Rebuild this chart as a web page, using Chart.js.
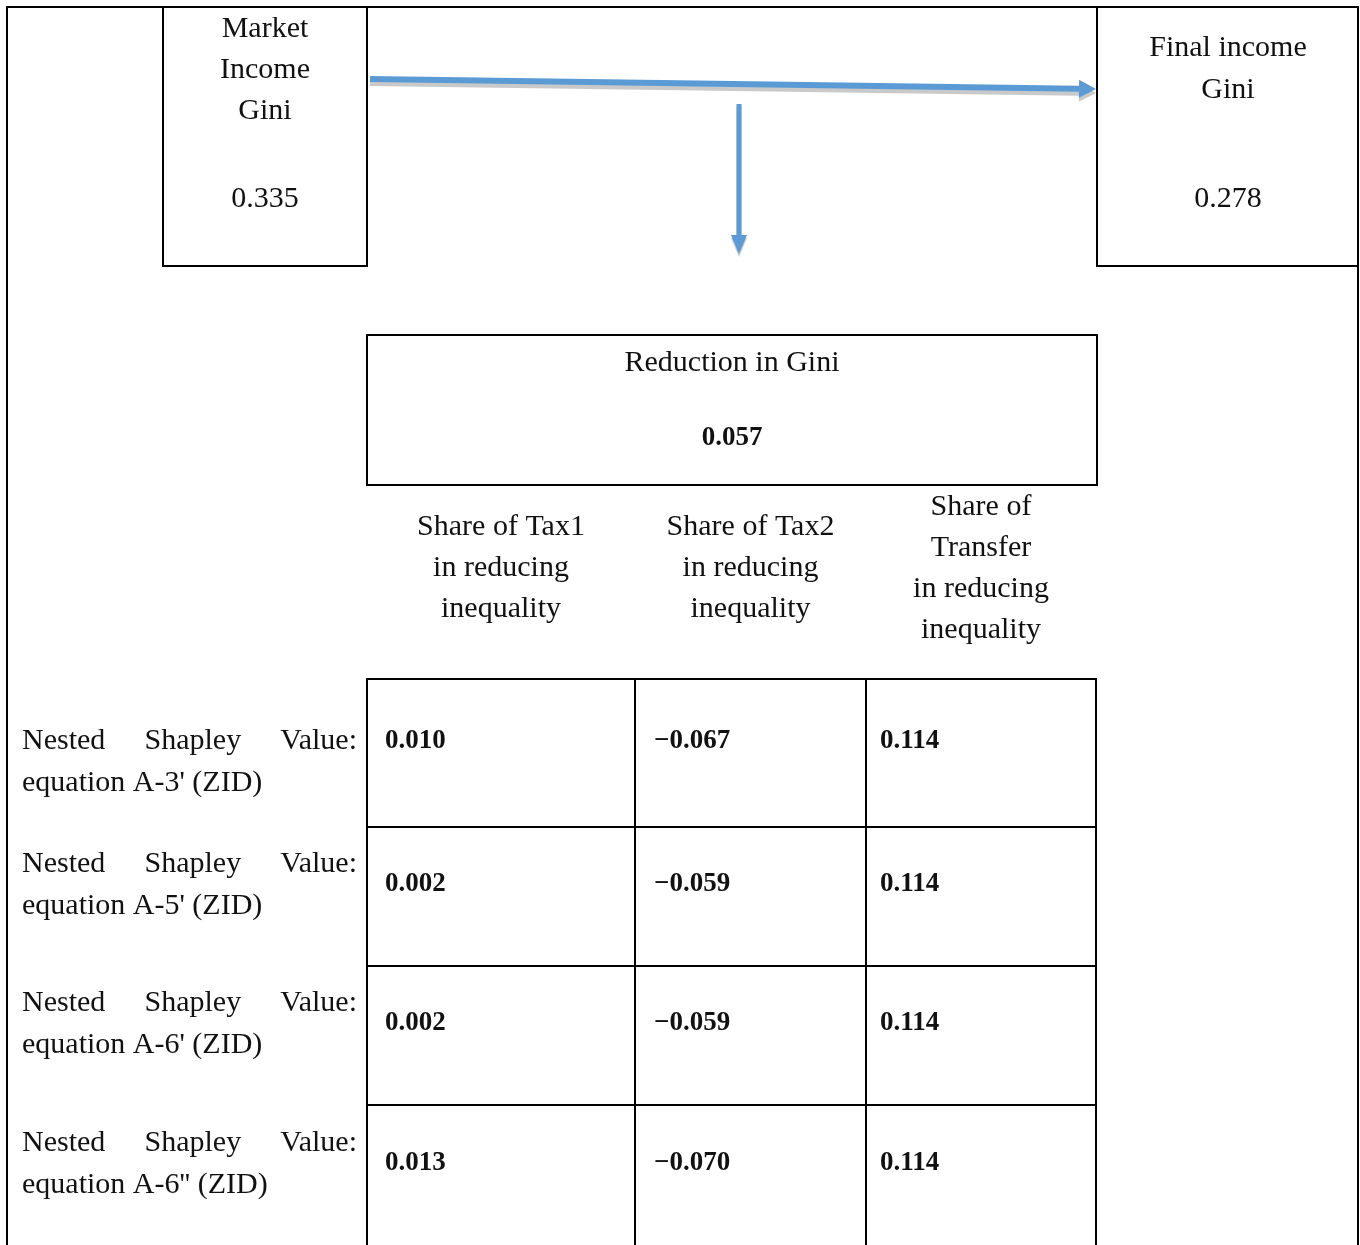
<!DOCTYPE html>
<html>
<head>
<meta charset="utf-8">
<script src="https://cdn.jsdelivr.net/npm/chart.js@4.4.0/dist/chart.umd.min.js"></script>
<style>
html, body { margin: 0; padding: 0; background: #fff; }
#wrap { width: 1360px; height: 1245px; }
</style>
</head>
<body>
<div id="wrap"><canvas id="myChart" width="1360" height="1245"></canvas></div>
<script>
// values
var marketGini = 0.335;
var finalGini = 0.278;
var reductionGini = 0.057;

var marketTitle = ['Market', 'Income', 'Gini'];
var finalTitle = ['Final income', 'Gini'];
var reductionTitle = 'Reduction in Gini';

var columnHeaders = [
	['Share of Tax1', 'in reducing', 'inequality'],
	['Share of Tax2', 'in reducing', 'inequality'],
	['Share of', 'Transfer', 'in reducing', 'inequality']
];
var methods = [
	["Nested Shapley Value:", "equation A-3' (ZID)"],
	["Nested Shapley Value:", "equation A-5' (ZID)"],
	["Nested Shapley Value:", "equation A-6' (ZID)"],
	["Nested Shapley Value:", "equation A-6'' (ZID)"]
];
var tax1 = [0.010, 0.002, 0.002, 0.013];
var tax2 = [-0.067, -0.059, -0.059, -0.070];
var transfer = [0.114, 0.114, 0.114, 0.114];

// layout (in axis units, 0..1360 by 0..1245)
var colEdges = [367, 635, 866, 1096];
var colText = [385, 654, 880];
var rowEdges = [679, 827, 966, 1105, 1245];
var labelShift = [[0, 42], [-20, 22], [-20, 22], [-20, 22]];

var SERIF = '"Liberation Serif", "DejaVu Serif", serif';
var BLUE = '#5b9bd5';
var SHADOW = '#c9c9c9';

function fmt(v) {
	return (v < 0 ? '\u2212' : '') + Math.abs(v).toFixed(3);
}

function rowY(i) {
	return (rowEdges[i] + rowEdges[i + 1]) / 2 - 12;
}

function makeSet(label, values, c) {
	return {
		label: label,
		data: values.map(function(v, i) { return { x: colText[c], y: rowY(i), v: v }; }),
		pointRadius: 0
	};
}

var diagram = {
	id: 'diagram',
	afterDatasetsDraw: function(chart) {
		var ctx = chart.ctx;
		var sx = chart.scales.x, sy = chart.scales.y;
		function X(v) { return sx.getPixelForValue(v); }
		function Y(v) { return sy.getPixelForValue(v); }

		function line(pts) {
			ctx.beginPath();
			ctx.moveTo(X(pts[0][0]), Y(pts[0][1]));
			for (var i = 1; i < pts.length; i++) ctx.lineTo(X(pts[i][0]), Y(pts[i][1]));
			ctx.stroke();
		}

		ctx.save();
		ctx.strokeStyle = '#000';
		ctx.lineWidth = 2;
		ctx.lineCap = 'square';

		// outer frame
		line([[7, 1250], [7, 7], [1358, 7], [1358, 1250]]);
		// market box
		line([[163, 7], [163, 266], [367, 266], [367, 7]]);
		// final box
		line([[1097, 7], [1097, 266], [1358, 266]]);
		// reduction box
		line([[367, 335], [1097, 335], [1097, 485], [367, 485], [367, 335]]);
		// table grid
		colEdges.forEach(function(cx) { line([[cx, rowEdges[0]], [cx, 1250]]); });
		for (var r = 0; r < rowEdges.length - 1; r++) {
			line([[colEdges[0], rowEdges[r]], [colEdges[3], rowEdges[r]]]);
		}

		// arrows
		function arrow(x0, y0, x1, y1, w, headLen, headW, color, dy) {
			var ang = Math.atan2(Y(y1) - Y(y0), X(x1) - X(x0));
			var ax = X(x0), ay = Y(y0) + dy, bx = X(x1), by = Y(y1) + dy;
			var hx = bx - Math.cos(ang) * headLen, hy = by - Math.sin(ang) * headLen;
			ctx.strokeStyle = color;
			ctx.fillStyle = color;
			ctx.lineWidth = w;
			ctx.lineCap = 'butt';
			ctx.beginPath();
			ctx.moveTo(ax, ay);
			ctx.lineTo(hx, hy);
			ctx.stroke();
			var nx = -Math.sin(ang) * headW, ny = Math.cos(ang) * headW;
			ctx.beginPath();
			ctx.moveTo(bx, by);
			ctx.lineTo(hx + nx, hy + ny);
			ctx.lineTo(hx - nx, hy - ny);
			ctx.closePath();
			ctx.fill();
		}
		arrow(370, 79, 1096, 89, 6, 17, 9, SHADOW, 4);
		arrow(370, 79, 1096, 89, 6, 17, 9, BLUE, 0);
		arrow(739, 104, 739, 254, 5, 19, 8, SHADOW, 3);
		arrow(739, 104, 739, 254, 5, 19, 8, BLUE, 0);

		// text
		ctx.fillStyle = '#111';
		ctx.textBaseline = 'middle';
		ctx.textAlign = 'center';
		ctx.font = '30px ' + SERIF;
		marketTitle.forEach(function(t, i) { ctx.fillText(t, X(265), Y(29 + i * 41)); });
		ctx.fillText(marketGini.toFixed(3), X(265), Y(199));
		finalTitle.forEach(function(t, i) { ctx.fillText(t, X(1228), Y(48 + i * 42)); });
		ctx.fillText(finalGini.toFixed(3), X(1228), Y(199));
		ctx.fillText(reductionTitle, X(732), Y(363));
		ctx.font = 'bold 27px ' + SERIF;
		ctx.fillText(reductionGini.toFixed(3), X(732), Y(438));

		ctx.font = '30px ' + SERIF;
		columnHeaders.forEach(function(lines, c) {
			var cx = (colEdges[c] + colEdges[c + 1]) / 2;
			var top = lines.length > 3 ? 507 : 527;
			lines.forEach(function(t, i) { ctx.fillText(t, X(cx), Y(top + i * 41)); });
		});

		// row labels, first line justified
		ctx.textAlign = 'left';
		methods.forEach(function(lines, r) {
			var y = rowY(r);
			var words = lines[0].split(' ');
			var total = 0;
			words.forEach(function(w) { total += ctx.measureText(w).width; });
			var gap = (X(357) - X(22) - total) / (words.length - 1);
			var px = X(22);
			words.forEach(function(w) {
				ctx.fillText(w, px, Y(y + labelShift[r][0]));
				px += ctx.measureText(w).width + gap;
			});
			ctx.fillText(lines[1], X(22), Y(y + labelShift[r][1]));
		});

		// cell values
		ctx.font = 'bold 27px ' + SERIF;
		chart.data.datasets.forEach(function(ds, d) {
			var meta = chart.getDatasetMeta(d);
			meta.data.forEach(function(pt, i) {
				ctx.fillText(fmt(ds.data[i].v), pt.x, pt.y);
			});
		});
		ctx.restore();
	}
};

var ctx = document.getElementById('myChart').getContext('2d');
var myChart = new Chart(ctx, {
	type: 'scatter',
	data: {
		datasets: [
			makeSet('Tax1', tax1, 0),
			makeSet('Tax2', tax2, 1),
			makeSet('Transfer', transfer, 2)
		]
	},
	options: {
		responsive: false,
		animation: false,
		events: [],
		layout: { padding: 0 },
		plugins: { legend: { display: false }, tooltip: { enabled: false } },
		scales: {
			x: { type: 'linear', min: 0, max: 1360, display: false },
			y: { type: 'linear', min: 0, max: 1245, reverse: true, display: false }
		}
	},
	plugins: [diagram]
});
</script>
</body>
</html>
